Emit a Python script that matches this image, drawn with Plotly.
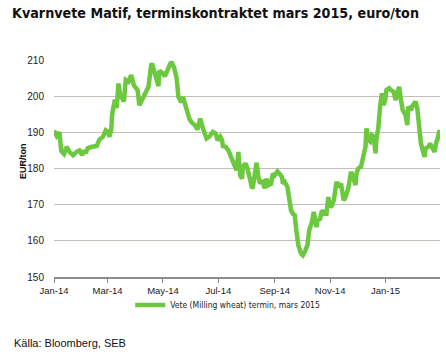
import pandas as pd
import plotly.graph_objects as go

# Day offsets from 2014-01-01 and prices (EUR/ton)
day_offsets = [0, 3, 6, 8, 11, 14, 17, 21, 25, 28, 31, 33, 35, 37, 42, 47, 50, 54, 57, 59,
               61, 63, 64, 66, 67, 69, 71, 73, 75, 77, 79, 82, 85, 88, 92, 94, 96, 99, 102, 104,
               107, 108, 110, 113, 115, 116, 120, 122, 126, 129, 132, 135, 137, 140, 142, 144, 146, 149, 151, 155,
               158, 161, 164, 166, 168, 171, 173, 175, 178, 180, 183, 185, 186, 189, 192, 194, 197, 199, 201, 203,
               205, 207, 208, 211, 213, 216, 218, 219, 221, 223, 225, 227, 229, 232, 234, 236, 239, 241, 243, 246,
               248, 251, 252, 254, 257, 259, 261, 263, 265, 267, 269, 272, 274, 276, 279, 281, 284, 286, 289, 290,
               293, 295, 298, 300, 302, 304, 306, 308, 311, 313, 316, 319, 321, 324, 327, 329, 332, 333, 335, 338,
               340, 343, 344, 346, 348, 350, 352, 354, 355, 357, 359, 361, 363, 365, 366, 369, 371, 374, 376, 378,
               380, 382, 384, 387, 389, 390, 393, 395, 398, 400, 402, 404, 406, 408, 409, 412, 414, 416, 419, 421,
               422, 424, 425]
prices = [190.5, 189.0, 190.0, 184.8, 184.0, 186.0, 184.6, 183.7, 184.6, 185.0, 183.7, 185.0, 184.2, 185.6, 186.0, 186.2, 188.0, 188.8, 190.6, 190.3,
          188.8, 190.8, 195.0, 197.0, 199.0, 196.7, 203.5, 200.0, 199.5, 198.5, 204.5, 204.0, 205.8, 203.0, 201.7, 197.5, 198.5, 199.8, 201.2, 202.6,
          208.6, 209.0, 207.2, 204.0, 202.8, 207.0, 206.3, 205.5, 207.7, 209.5, 208.1, 205.0, 199.8, 198.3, 199.8, 198.0, 195.7, 193.8, 192.9, 192.0,
          190.8, 193.8, 191.1, 189.7, 188.3, 188.8, 189.5, 190.1, 189.7, 187.8, 188.8, 187.8, 186.2, 186.0, 185.0, 183.7, 182.3, 180.5, 179.5, 184.6,
          178.1, 177.2, 180.5, 181.4, 180.0, 176.8, 174.5, 174.9, 178.6, 181.6, 177.7, 175.8, 176.8, 174.5, 177.2, 175.4, 175.8, 178.6, 178.1, 179.2,
          178.6, 177.7, 175.8, 176.3, 174.9, 172.1, 168.4, 167.5, 167.1, 162.5, 158.8, 156.5, 156.0, 156.9, 158.8, 162.9, 165.2, 168.0, 163.8, 165.7,
          166.1, 168.4, 167.5, 167.5, 172.1, 169.3, 169.8, 171.2, 176.3, 174.9, 175.8, 171.2, 172.1, 174.5, 179.1, 177.7, 175.4, 178.6, 180.0, 180.5,
          182.3, 186.0, 191.1, 187.8, 187.4, 189.2, 188.8, 184.2, 188.3, 191.1, 197.1, 200.8, 197.5, 199.4, 201.7, 202.2, 201.7, 201.2, 198.9, 201.2,
          202.6, 198.9, 196.1, 194.8, 192.0, 197.1, 196.1, 197.5, 198.5, 196.6, 189.7, 186.9, 185.0, 183.2, 185.5, 186.0, 186.9, 186.0, 184.6, 187.4,
          187.8, 190.1, 190.6]

tick_dates = ["2014-01-01", "2014-03-01", "2014-05-01", "2014-07-01", "2014-09-01", "2014-11-01", "2015-01-01"]
tick_labels = ["Jan-14", "Mar-14", "May-14", "Jul-14", "Sep-14", "Nov-14", "Jan-15"]
y_ticks = [150, 160, 170, 180, 190, 200, 210]

dates = pd.Timestamp("2014-01-01") + pd.to_timedelta(day_offsets, unit="D")

FONT = "Liberation Sans, Arial, sans-serif"
COND = "DejaVu Sans Condensed, Liberation Sans, sans-serif"

fig = go.Figure()
fig.add_trace(go.Scatter(
    x=dates, y=prices, mode="lines",
    name="Vete (Milling wheat) termin, mars 2015",
    line=dict(color="#6cc83e", width=4.5, shape="linear"),
))

fig.update_layout(
    width=446, height=356,
    margin=dict(l=54, r=6, t=60, b=79),
    paper_bgcolor="white", plot_bgcolor="white",
    font=dict(family=FONT, size=10, color="#222222"),
    showlegend=True,
    legend=dict(orientation="h", x=0.45, xanchor="center", y=-0.129, yanchor="middle",
                font=dict(family=COND, size=8.5, color="#222222"),
                itemwidth=30, bgcolor="rgba(0,0,0,0)"),
    title=dict(text="<b>Kvarnvete Matif, terminskontraktet mars 2015, euro/ton</b>",
               x=0.027, xanchor="left", y=0.963, yanchor="middle",
               font=dict(family=COND, size=14.2, color="#111111")),
    xaxis=dict(
        type="date", range=["2014-01-01", "2015-03-02"],
        tickvals=tick_dates, ticktext=tick_labels,
        showgrid=False, zeroline=False,
        showline=True, linecolor="#8c8c8c", linewidth=1.5,
        ticks="outside", ticklen=4, tickcolor="#8c8c8c", tickwidth=1,
        tickfont=dict(size=9.5, color="#222222"),
    ),
    yaxis=dict(
        range=[150, 210], tickvals=y_ticks,
        showgrid=True, gridcolor="#c2bdb5", gridwidth=1,
        zeroline=False, showline=False,
        ticks="outside", ticklen=7, tickcolor="rgba(0,0,0,0)",
        tickfont=dict(size=10, color="#222222"),
    ),
)
fig.add_annotation(text="<b>EUR/ton</b>", textangle=-90, xref="paper", yref="paper",
                   x=-0.08, xanchor="center", y=0.535, yanchor="middle", showarrow=False,
                   font=dict(size=9, color="#111111"))
fig.add_annotation(text="Källa: Bloomberg, SEB", xref="paper", yref="paper",
                   x=-0.108, xanchor="left", y=-0.305, yanchor="middle",
                   showarrow=False, font=dict(size=11, color="#111111"))

fig.write_html("out.html", config={"displayModeBar": False},
               post_script="document.body.style.margin='0';")
